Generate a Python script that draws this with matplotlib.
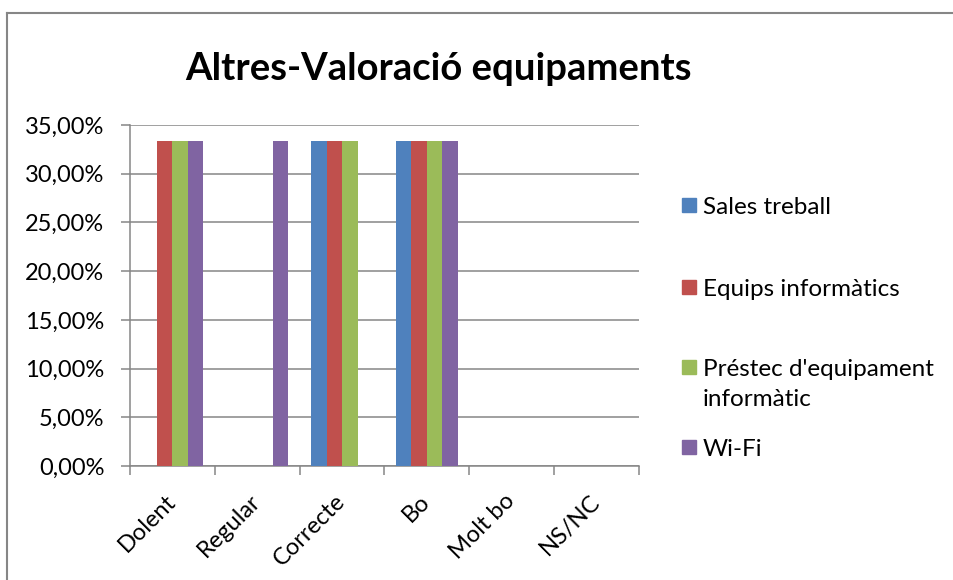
import matplotlib
matplotlib.use("Agg")
import matplotlib.pyplot as plt
import numpy as np
from matplotlib.lines import Line2D
from matplotlib.patches import Rectangle
from matplotlib.ticker import FuncFormatter, FixedLocator

plt.rcParams["font.family"] = ["Lato", "DejaVu Sans"]

categories = ["Dolent", "Regular", "Correcte", "Bo", "Molt bo", "NS/NC"]
series_names = ["Sales treball", "Equips informàtics",
                "Préstec d'equipament\ninformàtic", "Wi-Fi"]
sales_treball = [0.0, 0.0, 33.33, 33.33, 0.0, 0.0]
equips_informatics = [33.33, 0.0, 33.33, 33.33, 0.0, 0.0]
prestec_equipament = [33.33, 0.0, 33.33, 33.33, 0.0, 0.0]
wifi = [33.33, 33.33, 0.0, 33.33, 0.0, 0.0]
series_values = [sales_treball, equips_informatics, prestec_equipament, wifi]
colors = ["#4F81BD", "#C0504D", "#9BBB59", "#8064A2"]

GRID = "#868686"
W, H = 954, 580

fig = plt.figure(figsize=(W / 100, H / 100), dpi=100)
ax = fig.add_axes([130 / W, 1 - 466 / H, 509 / W, 341 / H])

x = np.arange(len(categories))
w = 1 / 5.5  # four bars plus a 150% gap per category
for i, (vals, col) in enumerate(zip(series_values, colors)):
    ax.bar(x + (i - 1.5) * w, vals, width=w, color=col, linewidth=0, zorder=3)

ax.set_xlim(-0.5, len(categories) - 0.5)
ax.set_ylim(0, 35)
ax.set_yticks(np.arange(0, 36, 5))
ax.yaxis.set_major_formatter(FuncFormatter(lambda v, _: f"{v:.2f}%".replace(".", ",")))
ax.grid(axis="y", color=GRID, linewidth=1.1, zorder=0)

ax.set_xticks(x)
ax.set_xticklabels(categories, rotation=45, ha="right", va="center",
                   rotation_mode="anchor")
ax.xaxis.set_minor_locator(FixedLocator(np.arange(-0.5, len(categories), 1)))
ax.tick_params(axis="x", which="major", length=0, pad=23, labelsize=17)
ax.tick_params(axis="x", which="minor", length=6.5, width=1.1, color=GRID, direction="out")
ax.tick_params(axis="y", length=6.5, width=1.1, color=GRID, labelsize=17, pad=12)

for side in ("top", "right"):
    ax.spines[side].set_visible(False)
for side in ("left", "bottom"):
    ax.spines[side].set_color(GRID)
    ax.spines[side].set_linewidth(1.1)

fig.text(438 / W, 1 - 80 / H, "Altres-Valoració equipaments",
         ha="center", va="baseline", fontsize=27.5, fontweight="bold")

# legend, drawn by hand so the wrapped label keeps its marker on the first line
legend_y = [205, 287, 367, 447]
for name, col, yy in zip(series_names, colors, legend_y):
    fig.patches.append(Rectangle((682 / W, 1 - (yy + 7) / H), 14 / W, 14 / H,
                                 transform=fig.transFigure, color=col, figure=fig))
    for k, line in enumerate(name.split("\n")):
        fig.text(703 / W, 1 - (yy + 8.5 + 31 * k) / H, line, ha="left",
                 va="baseline", fontsize=17.5)

# chart frame
fig.add_artist(Line2D([7 / W, 1], [1 - 13 / H, 1 - 13 / H],
                      transform=fig.transFigure, color=GRID, linewidth=1.5))
fig.add_artist(Line2D([7 / W, 7 / W], [0, 1 - 13 / H],
                      transform=fig.transFigure, color=GRID, linewidth=1.5))

fig.savefig("out.png", dpi=100, facecolor="white")
